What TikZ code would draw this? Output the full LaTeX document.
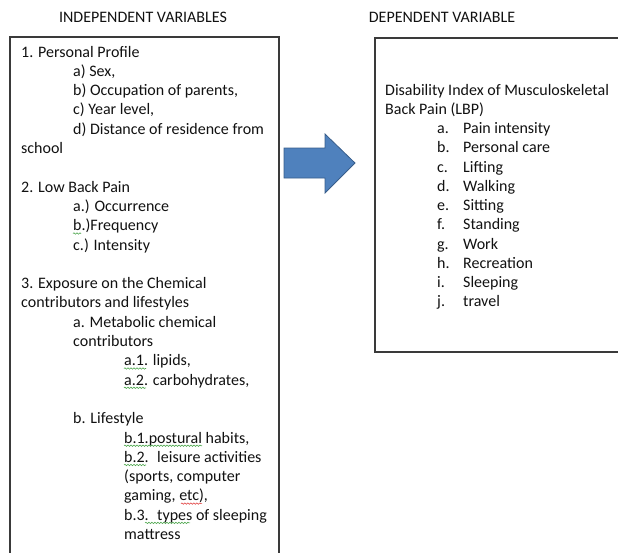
\documentclass[tikz,border=0pt]{standalone}
\usepackage{fontspec}
\setmainfont{Carlito}
\usetikzlibrary{decorations.pathmorphing}
\definecolor{txtc}{HTML}{111111}
\definecolor{boxc}{HTML}{3A3A3A}
\definecolor{arrfill}{HTML}{4F81BD}
\definecolor{arrline}{HTML}{385D8A}
\definecolor{spellg}{HTML}{4CA64C}
\definecolor{spellr}{HTML}{E04040}
\begin{document}
\begin{tikzpicture}[x=1pt,y=-1pt,
  txt/.style={anchor=base west,inner sep=0pt,font=\fontsize{16}{19}\selectfont,text=txtc},
  ttl/.style={anchor=base,inner sep=0pt,font=\fontsize{16}{19}\selectfont,text=txtc},
  boxline/.style={draw=boxc,line width=1.3pt},
  squig/.style={decorate,decoration={snake,amplitude=0.7pt,segment length=3pt},line width=0.6pt}]
\useasboundingbox (0,0) rectangle (618,552);
% titles
\node[ttl] (t1) at (143,22) {INDEPENDENT VARIABLES};
\node[ttl] (t2) at (442,22) {DEPENDENT VARIABLE};
% boxes
\draw[boxline] (10,553) -- (10,37) -- (279,37) -- (279,553);
\draw[boxline] (619,38) -- (375,38) -- (375,352) -- (619,352);
% arrow
\draw[fill=arrfill,draw=arrline,line width=0.8pt,line join=miter]
  (284,148) -- (325,148) -- (325,134) -- (355,163) -- (325,193) -- (325,178) -- (284,178) -- cycle;
% left text
\def\la{21}\def\lb{73}\def\lc{124}
\node[txt] (l0) at (\la,57) {1. Personal Profile};
\node[txt] (l1) at (\lb,76.3) {a) Sex,};
\node[txt] (l2) at (\lb,95.6) {b) Occupation of parents,};
\node[txt] (l3) at (\lb,114.9) {c) Year level,};
\node[txt] (l4) at (\lb,134.2) {d) Distance of residence from};
\node[txt] (l5) at (\la,153.5) {school};
\node[txt] (l7) at (\la,192.1) {2. Low Back Pain};
\node[txt] (l8) at (\lb,211.4) {a.) Occurrence};
\node[txt] (l9) at (\lb,230.7) {b.)Frequency};
\node[txt] (l10) at (\lb,250) {c.) Intensity};
\node[txt] (l12) at (\la,288.6) {3. Exposure on the Chemical};
\node[txt] (l13) at (\la,307.9) {contributors and lifestyles};
\node[txt] (l14) at (\lb,327.2) {a. Metabolic chemical};
\node[txt] (l15) at (\lb,346.5) {contributors};
\node[txt] (l16) at (\lc,365.8) {a.1. lipids,};
\node[txt] (l17) at (\lc,385.1) {a.2. carbohydrates,};
\node[txt] (l19) at (\lb,423.7) {b. Lifestyle};
\node[txt] (l20) at (\lc,443) {b.1.postural habits,};
\node[txt] (l21) at (\lc,462.3) {b.2.~ leisure activities};
\node[txt] (l22) at (\lc,481.6) {(sports, computer};
\node[txt] (l23) at (\lc,500.9) {gaming, etc),};
\node[txt] (l24) at (\lc,520.2) {b.3.~ types of sleeping};
\node[txt] (l25) at (\lc,539.5) {mattress};
% spell-check squiggles
\draw[squig,spellg] (73,233.5) -- (81,233.5);
\draw[squig,spellg] (124,368.5) -- (146,368.5);
\draw[squig,spellg] (124,387.8) -- (146,387.8);
\draw[squig,spellg] (124,445.7) -- (202,445.7);
\draw[squig,spellg] (124,465) -- (146,465);
\draw[squig,spellr] (181,503.6) -- (202,503.6);
\draw[squig,spellg] (145,522.9) -- (190,522.9);
% right text
\def\ra{385}\def\rb{437}\def\rc{463}
\node[txt] (r0) at (\ra,95) {Disability Index of Musculoskeletal};
\node[txt] (r1) at (\ra,114.3) {Back Pain (LBP)};
\foreach \lab/\item [count=\i from 0] in {a./Pain intensity,b./Personal care,c./Lifting,d./Walking,e./Sitting,f./Standing,g./Work,h./Recreation,i./Sleeping,j./travel}{
  \node[txt] (rl\i) at (\rb,133.6+19.25*\i) {\lab};
  \node[txt] (ri\i) at (\rc,133.6+19.25*\i) {\item};
}
\end{tikzpicture}
\end{document}
